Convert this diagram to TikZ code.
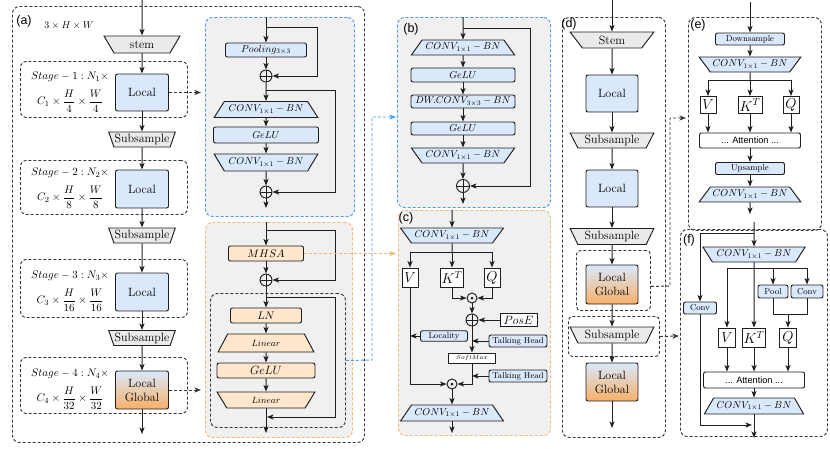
\documentclass[tikz,border=0pt]{standalone}
\usepackage{fontspec}
\newfontfamily\labfont{Liberation Sans}
\usetikzlibrary{shapes.geometric,arrows.meta}
\definecolor{lb}{RGB}{218,232,252}
\definecolor{lo}{RGB}{255,230,204}
\definecolor{lgy}{RGB}{234,234,234}
\definecolor{pg}{RGB}{240,240,240}
\definecolor{ed}{RGB}{30,30,30}
\definecolor{dg}{RGB}{55,55,55}
\definecolor{dbl}{RGB}{70,155,240}
\definecolor{dor}{RGB}{248,182,115}
\definecolor{og}{RGB}{247,176,104}
\tikzset{
  fs/.style={font=\fontsize{#1}{14}\selectfont},
  box/.style={draw=ed, line width=0.95pt, rounded corners=2pt, inner sep=0pt},
  bb/.style={box, fill=lb},
  ob/.style={box, fill=lo},
  wb/.style={draw=ed, line width=0.95pt, fill=white, inner sep=0pt},
  lgb/.style={box, top color=lb, bottom color=og, align=center},
  tz/.style n args={3}{trapezium, draw=ed, line width=0.95pt, inner xsep=0pt, inner ysep=0pt,
     trapezium stretches=true, minimum width=#1, minimum height=#2, trapezium angle=#3},
  tzd/.style n args={3}{tz={#1}{#2}{#3}, shape border rotate=180},
  arr/.style={draw=ed, line width=1pt, -{Stealth[length=6.5pt,width=5pt,inset=1.6pt]}},
  ln/.style={draw=ed, line width=1pt},
  dsh/.style={dash pattern=on 3pt off 2pt, line width=0.95pt},
  darr/.style={dsh, draw=dg, -{Stealth[length=6.5pt,width=5pt,inset=1.6pt]}},
  panel/.style={draw=dg, dsh, rounded corners=7pt, inner sep=0pt, anchor=north west},
  opl/.style={circle, draw=ed, line width=0.95pt, minimum size=#1, inner sep=0pt,
     path picture={\draw[ed, line width=0.95pt] (path picture bounding box.north) -- (path picture bounding box.south) (path picture bounding box.west) -- (path picture bounding box.east);}},
  odt/.style={circle, draw=ed, line width=0.95pt, minimum size=#1, inner sep=0pt,
     path picture={\fill[ed] (path picture bounding box.center) circle (1.5pt);}},
  lab/.style={font=\labfont\fontsize{12.5}{14}\selectfont, inner sep=0pt},
}
\begin{document}
\begin{tikzpicture}[x=1pt,y=-1pt]
\useasboundingbox (0,0) rectangle (830,448);

% ---------------- panel (a)
\node[panel, minimum width=352pt, minimum height=436pt] (pa) at (12,6) {};
\node[lab] (la) at (24,21) {(a)};
\node[fs=10, inner sep=0pt] (dim) at (69,25) {$3\times H\times W$};
\node[panel, rounded corners=6pt, minimum width=167pt, minimum height=56pt] (s1) at (20,61) {};
\node[panel, rounded corners=6pt, minimum width=167pt, minimum height=54pt] (s2) at (20,160) {};
\node[panel, rounded corners=6pt, minimum width=167pt, minimum height=58pt] (s3) at (20,259) {};
\node[panel, rounded corners=6pt, minimum width=167pt, minimum height=56pt] (s4) at (20,357) {};

\node[tzd={76pt}{17pt}{60}, fill=lgy, fs=12] (stem) at (142,44.5) {stem};
\node[bb, minimum width=53pt, minimum height=37pt, fs=12] (l1) at (142,92.5) {Local};
\node[tzd={67pt}{15pt}{65}, fill=lgy, fs=12] (sub1) at (142,139.5) {Subsample};
\node[bb, minimum width=53pt, minimum height=38pt, fs=12] (l2) at (142,189) {Local};
\node[tzd={67pt}{15pt}{65}, fill=lgy, fs=12] (sub2) at (142,235.5) {Subsample};
\node[bb, minimum width=53pt, minimum height=38pt, fs=12] (l3) at (142,292) {Local};
\node[tzd={67pt}{15pt}{65}, fill=lgy, fs=12] (sub3) at (142,338) {Subsample};
\node[lgb, minimum width=53pt, minimum height=38pt, fs=12] (lg4) at (142,390) {Local\\Global};

\node[fs=10.95, inner sep=0pt] (st1a) at (70,77) {$Stage-1: N_1\times$};
\node[fs=10.95, inner sep=0pt] (st1b) at (70,101) {$C_1\times\displaystyle\frac{H}{4}\times\frac{W}{4}$};
\node[fs=10.95, inner sep=0pt] (st2a) at (70,173) {$Stage-2: N_2\times$};
\node[fs=10.95, inner sep=0pt] (st2b) at (70,197) {$C_2\times\displaystyle\frac{H}{8}\times\frac{W}{8}$};
\node[fs=10.95, inner sep=0pt] (st3a) at (70,276) {$Stage-3: N_3\times$};
\node[fs=10.95, inner sep=0pt] (st3b) at (70,300) {$C_3\times\displaystyle\frac{H}{16}\times\frac{W}{16}$};
\node[fs=10.95, inner sep=0pt] (st4a) at (70,374) {$Stage-4: N_4\times$};
\node[fs=10.95, inner sep=0pt] (st4b) at (70,398) {$C_4\times\displaystyle\frac{H}{32}\times\frac{W}{32}$};

\coordinate (ain) at (142,0);
\coordinate (aout) at (142,434);
\draw[arr] (ain) -- (stem);
\draw[arr] (stem) -- (l1);
\draw[arr] (l1) -- (sub1);
\draw[arr] (sub1) -- (l2);
\draw[arr] (l2) -- (sub2);
\draw[arr] (sub2) -- (l3);
\draw[arr] (l3) -- (sub3);
\draw[arr] (sub3) -- (lg4);
\draw[arr] (lg4) -- (aout);

% ---------------- middle blue (local block)
\node[panel, draw=dbl, fill=pg, minimum width=149pt, minimum height=199pt] (mb) at (205,17) {};
\node[bb, minimum width=81pt, minimum height=14pt, fs=10] (pool) at (266,50) {$Pooling_{3\times3}$};
\node[opl=12pt] (p1) at (266,76) {};
\node[tz={104pt}{16pt}{45}, fill=lb, fs=10] (mc1) at (266,109.5) {$CONV_{1\times1}-BN$};
\node[bb, minimum width=105pt, minimum height=16pt, fs=10] (mg1) at (266,135) {$GeLU$};
\node[tzd={104pt}{17pt}{45}, fill=lb, fs=10] (mc2) at (266,162.5) {$CONV_{1\times1}-BN$};
\node[opl=12pt] (p2) at (266,192) {};
\coordinate (mbin) at (266,17);
\coordinate (k1) at (266,27);
\coordinate (k2) at (266,90);
\coordinate (mbout) at (266,208);
\draw[arr] (mbin) -- (pool);
\draw[arr] (k1) -- (317,27) -- (317,76) -- (p1);
\draw[arr] (pool) -- (p1);
\draw[arr] (p1) -- (mc1);
\draw[arr] (k2) -- (335,90) -- (335,192) -- (p2);
\draw[arr] (mc1) -- (mg1);
\draw[arr] (mg1) -- (mc2);
\draw[arr] (mc2) -- (p2);
\draw[arr] (p2) -- (mbout);

% ---------------- middle orange (global block)
\node[panel, draw=dor, fill=pg, minimum width=147pt, minimum height=215pt] (mo) at (205,222) {};
\node[panel, minimum width=135pt, minimum height=134pt] (ffn) at (210,293) {};
\node[ob, minimum width=75pt, minimum height=15pt, fs=10.95] (mhsa) at (266,253.5) {$MHSA$};
\node[opl=12pt] (p3) at (266,280) {};
\node[ob, minimum width=71pt, minimum height=15pt, fs=10.95] (oln) at (266,315.5) {$LN$};
\node[tz={96pt}{18pt}{60}, fill=lo, fs=9] (lin1) at (266,343) {$Linear$};
\node[ob, minimum width=98pt, minimum height=15pt, fs=12] (og1) at (266,370.5) {$GeLU$};
\node[tzd={98pt}{16pt}{60}, fill=lo, fs=9] (lin2) at (266,400) {$Linear$};
\coordinate (obin) at (266,222);
\coordinate (k3) at (266,230);
\coordinate (k4) at (266,297);
\coordinate (k5) at (267,417);
\coordinate (obout) at (266,433);
\draw[arr] (obin) -- (mhsa);
\draw[arr] (k3) -- (335,230) -- (335,280) -- (p3);
\draw[arr] (mhsa) -- (p3);
\draw[arr] (p3) -- (oln);
\draw[arr] (k4) -- (335,297) -- (335,417) -- (k5);
\draw[arr] (oln) -- (lin1);
\draw[arr] (lin1) -- (og1);
\draw[arr] (og1) -- (lin2);
\draw[arr] (lin2) -- (obout);

% dashed links from (a)
\coordinate (t1) at (201,92.5);
\coordinate (t2) at (201,390);
\draw[darr] (l1.east) -- (t1);
\draw[darr] (lg4.east) -- (t2);

% ---------------- panel (b)
\node[panel, draw=dbl, fill=pg, minimum width=153pt, minimum height=190pt] (pbb) at (397,17) {};
\node[lab] (lb) at (411,29) {(b)};
\node[tz={104pt}{15pt}{43}, fill=lb, fs=10] (bc1) at (463,47.5) {$CONV_{1\times1}-BN$};
\node[bb, minimum width=104pt, minimum height=14pt, fs=10] (bg1) at (463,75) {$GeLU$};
\node[bb, minimum width=104pt, minimum height=13pt, fs=10] (bdw) at (463,101.5) {$DW.CONV_{3\times3}-BN$};
\node[bb, minimum width=104pt, minimum height=13pt, fs=10] (bg2) at (463,128.5) {$GeLU$};
\node[tzd={104pt}{15pt}{43}, fill=lb, fs=10] (bc2) at (463,155.5) {$CONV_{1\times1}-BN$};
\node[opl=13pt] (bp) at (463,186) {};
\coordinate (bin) at (463,17);
\coordinate (k6) at (463,28);
\coordinate (bout) at (463,204);
\draw[arr] (bin) -- (bc1);
\draw[arr] (k6) -- (530,28) -- (530,186) -- (bp);
\draw[arr] (bc1) -- (bg1);
\draw[arr] (bg1) -- (bdw);
\draw[arr] (bdw) -- (bg2);
\draw[arr] (bg2) -- (bc2);
\draw[arr] (bc2) -- (bp);
\draw[arr] (bp) -- (bout);

% ---------------- panel (c)
\node[panel, draw=dor, fill=pg, minimum width=152pt, minimum height=225pt] (pc) at (398,210) {};
\node[lab] (lc) at (406,218) {(c)};
\node[tzd={104pt}{15pt}{42}, fill=lb, fs=10] (cc1) at (452,235.5) {$CONV_{1\times1}-BN$};
\node[wb, minimum width=16pt, minimum height=19pt, fs=14.4] (cv) at (410,277.5) {$V$};
\node[wb, minimum width=23pt, minimum height=19pt, fs=14.4] (ck) at (452,277.5) {$K^T$};
\node[wb, minimum width=16pt, minimum height=19pt, fs=14.4] (cq) at (492,277.5) {$Q$};
\node[odt=10pt] (cd1) at (472,298) {};
\node[opl=12pt] (cp) at (472,320) {};
\node[wb, minimum width=37pt, minimum height=13pt, fs=12] (pose) at (518.5,320) {$PosE$};
\node[bb, minimum width=58pt, minimum height=12pt, fs=8.5] (th1) at (518,341) {Talking Head};
\node[bb, minimum width=47pt, minimum height=10.5pt, fs=8.5] (loc) at (444,336) {Locality};
\node[wb, minimum width=47pt, minimum height=10pt, fs=6] (sm) at (472,358) {$SoftMax$};
\node[bb, minimum width=58pt, minimum height=12pt, fs=8.5] (th2) at (518,376) {Talking Head};
\node[odt=10pt] (cd2) at (452,384) {};
\node[tz={104pt}{16pt}{42}, fill=lb, fs=10] (cc2) at (452,413) {$CONV_{1\times1}-BN$};
\coordinate (cin) at (452,210);
\coordinate (cbr) at (452,252);
\coordinate (cout) at (452,433);
\draw[arr] (cin) -- (cc1);
\draw[ln] (cc1) -- (cbr);
\draw[ln] (cbr -| cv) -- (cbr -| cq);
\draw[arr] (cbr -| cv) -- (cv);
\draw[arr] (cbr) -- (ck);
\draw[arr] (cbr -| cq) -- (cq);
\draw[arr] (ck) |- (cd1);
\draw[arr] (cq) |- (cd1);
\draw[arr] (cd1) -- (cp);
\draw[arr] (pose) -- (cp);
\draw[arr] (cp) -- (sm);
\draw[arr] (th1) -- (th1 -| sm);
\draw[arr] (loc) -- (loc -| cv);
\draw[arr] (cv) |- (cd2);
\draw[arr] (sm) |- (cd2);
\draw[arr] (th2) -- (th2 -| sm);
\draw[arr] (cd2) -- (cc2);
\draw[arr] (cc2) -- (cout);

% links to (b) and (c)
\coordinate (tb) at (396,117);
\coordinate (tc) at (396,253.5);
\draw[darr, draw=dbl] (ffn.east) -- (372,360) -- (372,117) -- (tb);
\draw[darr, draw=dor] (mhsa.east) -- (tc);

% ---------------- panel (d)
\node[panel, minimum width=103pt, minimum height=420pt] (pd) at (562,17) {};
\node[lab] (ld) at (569,24) {(d)};
\node[tzd={84pt}{16pt}{58}, fill=lgy, fs=12] (dstem) at (612,40) {Stem};
\node[bb, minimum width=52pt, minimum height=37pt, fs=12] (dl1) at (612,93.5) {Local};
\node[tzd={84pt}{15pt}{60}, fill=lgy, fs=12] (ds1) at (612,140.5) {Subsample};
\node[bb, minimum width=52pt, minimum height=37pt, fs=12] (dl2) at (612,188.5) {Local};
\node[tzd={84pt}{16pt}{60}, fill=lgy, fs=12] (ds2) at (612,236.5) {Subsample};
\node[panel, rounded corners=4pt, minimum width=74pt, minimum height=60pt] (db1) at (576,250) {};
\node[lgb, minimum width=52pt, minimum height=39pt, fs=12] (dlg1) at (612,284.5) {Local\\Global};
\node[panel, rounded corners=4pt, minimum width=91pt, minimum height=40pt] (db2) at (568,316) {};
\node[tzd={84pt}{16pt}{60}, fill=lgy, fs=12] (ds3) at (612,335) {Subsample};
\node[lgb, minimum width=52pt, minimum height=38pt, fs=12] (dlg2) at (612,382) {Local\\Global};
\coordinate (din) at (612,0);
\coordinate (dout) at (612,428);
\draw[arr] (din) -- (dstem);
\draw[arr] (dstem) -- (dl1);
\draw[arr] (dl1) -- (ds1);
\draw[arr] (ds1) -- (dl2);
\draw[arr] (dl2) -- (ds2);
\draw[arr] (ds2) -- (dlg1);
\draw[arr] (dlg1) -- (ds3);
\draw[arr] (ds3) -- (dlg2);
\draw[arr] (dlg2) -- (dout);

% ---------------- panel (e)
\node[panel, minimum width=133pt, minimum height=213pt] (pe) at (688,17) {};
\node[lab] (le) at (698,25) {(e)};
\node[bb, minimum width=69pt, minimum height=12pt, fs=8.5] (eds) at (750,39) {Downsample};
\node[tzd={102pt}{15pt}{41}, fill=lb, fs=10] (ec1) at (750,64.5) {$CONV_{1\times1}-BN$};
\node[wb, minimum width=16pt, minimum height=17pt, fs=14.4] (ev) at (708,105) {$V$};
\node[wb, minimum width=24pt, minimum height=17pt, fs=14.4] (ek) at (750,105) {$K^T$};
\node[wb, minimum width=16pt, minimum height=17pt, fs=14.4] (eq) at (791,105) {$Q$};
\node[box, fill=white, minimum width=101pt, minimum height=15pt, font=\labfont\fontsize{9.2}{11}\selectfont] (eat) at (750,140.5) {... Attention ...};
\node[bb, minimum width=69pt, minimum height=12pt, fs=8.5] (eup) at (750,168.5) {Upsample};
\node[tz={102pt}{15pt}{41}, fill=lb, fs=10] (ec2) at (750,194.5) {$CONV_{1\times1}-BN$};
\coordinate (ein) at (750,2);
\coordinate (ebr) at (750,80);
\coordinate (eout) at (750,214);
\draw[arr] (ein) -- (eds);
\draw[arr] (eds) -- (ec1);
\draw[ln] (ec1) -- (ebr);
\draw[ln] (ebr -| ev) -- (ebr -| eq);
\draw[arr] (ebr -| ev) -- (ev);
\draw[arr] (ebr) -- (ek);
\draw[arr] (ebr -| eq) -- (eq);
\draw[arr] (ev) -- (ev |- eat.north);
\draw[arr] (ek) -- (eat);
\draw[arr] (eq) -- (eq |- eat.north);
\draw[arr] (eat) -- (eup);
\draw[arr] (eup) -- (ec2);
\draw[arr] (ec2) -- (eout);

% ---------------- panel (f)
\node[panel, minimum width=147pt, minimum height=207pt] (pf) at (680,229) {};
\node[lab] (lf) at (689,240) {(f)};
\node[tzd={103pt}{15pt}{47}, fill=lb, fs=10] (fc1) at (754,254.5) {$CONV_{1\times1}-BN$};
\node[bb, minimum width=30pt, minimum height=13pt, fs=8.5] (fpool) at (773,291.5) {Pool};
\node[bb, minimum width=32pt, minimum height=13pt, fs=8.5] (fconv) at (807,291.5) {Conv};
\node[bb, minimum width=33pt, minimum height=12pt, fs=8.5] (flc) at (700,308) {Conv};
\node[wb, minimum width=17pt, minimum height=19pt, fs=14.4] (fv) at (727,337.5) {$V$};
\node[wb, minimum width=23pt, minimum height=19pt, fs=14.4] (fkt) at (754,337.5) {$K^T$};
\node[wb, minimum width=17pt, minimum height=19pt, fs=14.4] (fq) at (788,337.5) {$Q$};
\node[box, fill=white, minimum width=101pt, minimum height=16pt, font=\labfont\fontsize{9.2}{11}\selectfont] (fat) at (754,380) {... Attention ...};
\node[tz={100pt}{16pt}{47}, fill=lb, fs=10] (fc2) at (754,406) {$CONV_{1\times1}-BN$};
\coordinate (fin) at (754,222);
\coordinate (fk) at (754,233);
\coordinate (fbr) at (754,268);
\coordinate (fm) at (788,314);
\coordinate (fj) at (752,425);
\coordinate (fout) at (754,438);
\draw[arr] (fin) -- (fc1);
\draw[arr] (fk) -| (flc);
\draw[ln] (fbr -| fv) -- (fbr -| fconv);
\draw[arr] (fbr -| fv) -- (fv);
\draw[arr] (fc1) -- (fkt);
\draw[arr] (fbr -| fpool) -- (fpool);
\draw[arr] (fbr -| fconv) -- (fconv);
\draw[ln] (fpool.south) -- (fpool.south |- fm) -- (fconv.south |- fm) -- (fconv.south);
\draw[arr] (fm) -- (fq);
\draw[arr] (fv) -- (fv |- fat.north);
\draw[arr] (fkt) -- (fat);
\draw[arr] (fq) -- (fq |- fat.north);
\draw[arr] (fat) -- (fc2);
\draw[arr] (fc2) -- (fout);
\draw[arr] (flc) |- (fj);

% links from (d)
\coordinate (te) at (686,118);
\coordinate (tf) at (679,336);
\draw[darr] ([yshift=-6pt]db1.east) -- (670,286) -- (670,118) -- (te);
\draw[darr] (db2.east) -- (tf);
\end{tikzpicture}
\end{document}
